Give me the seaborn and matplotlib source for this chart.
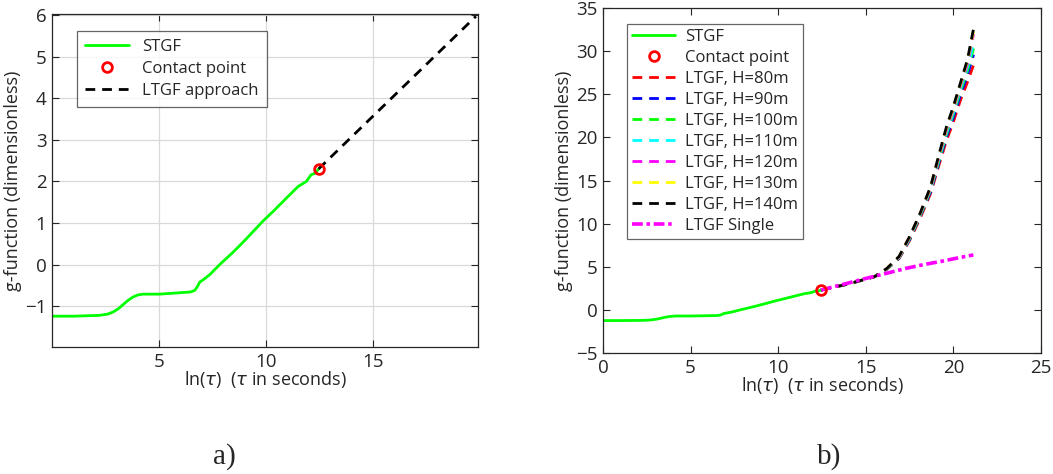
import numpy as np
import pandas as pd
import matplotlib
matplotlib.use("Agg")
import matplotlib.pyplot as plt
import seaborn as sns

# ---- data -------------------------------------------------------------
stgf_x = [0.0, 1.0, 2.2, 2.6, 2.85, 3.1, 3.3, 3.55, 3.78, 4.0, 4.25, 4.6, 5.0,
          5.6, 6.1, 6.45, 6.67, 6.8, 6.9, 7.1, 7.37, 7.83, 8.46, 8.85, 9.22,
          9.86, 10.33, 10.95, 11.5, 11.88, 12.1, 12.3, 12.45]
stgf_y = [-1.24, -1.24, -1.22, -1.19, -1.14, -1.06, -0.97, -0.86, -0.78, -0.73,
          -0.71, -0.71, -0.71, -0.69, -0.67, -0.66, -0.62, -0.52, -0.42, -0.35,
          -0.24, 0.0, 0.30, 0.50, 0.70, 1.05, 1.28, 1.60, 1.88, 2.00, 2.16,
          2.20, 2.30]

contact_x = [12.45]
contact_y = [2.30]

ltgf_x = [12.45, 19.8]
ltgf_y = [2.30, 5.97]

single_x = [12.45, 13.5, 15.05, 16.2, 17.33, 18.3, 19.24, 20.2, 21.14]
single_y = [2.30, 2.85, 3.67, 4.25, 4.83, 5.25, 5.60, 6.00, 6.37]

h_x = [12.45, 14.0, 15.5, 16.2, 16.9, 17.5, 18.1, 18.7, 19.15, 19.6, 20.0,
       20.4, 20.8, 21.15]
h80 = [2.30, 3.00, 3.85, 4.70, 5.95, 8.05, 10.6, 13.5, 16.6, 19.6, 21.8, 24.3, 26.4, 28.4]
h90 = [2.30, 3.00, 3.85, 4.72, 6.00, 8.15, 10.8, 13.7, 16.9, 20.0, 22.3, 24.9, 27.2, 29.6]
h100 = [2.30, 3.00, 3.85, 4.74, 6.05, 8.25, 10.9, 13.9, 17.1, 20.3, 22.7, 25.3, 27.7, 30.3]
h110 = [2.30, 3.00, 3.85, 4.75, 6.08, 8.30, 11.0, 14.0, 17.3, 20.5, 22.9, 25.6, 28.1, 30.8]
h120 = [2.30, 3.00, 3.85, 4.77, 6.12, 8.40, 11.1, 14.1, 17.5, 20.8, 23.2, 25.9, 28.5, 32.0]
h130 = [2.30, 3.00, 3.85, 4.78, 6.16, 8.45, 11.15, 14.2, 17.7, 21.0, 23.4, 26.1, 28.8, 32.3]
h140 = [2.30, 3.00, 3.85, 4.80, 6.20, 8.50, 11.2, 14.3, 17.8, 21.2, 23.6, 26.3, 29.0, 32.6]

h_labels = ["LTGF, H=80m", "LTGF, H=90m", "LTGF, H=100m", "LTGF, H=110m",
            "LTGF, H=120m", "LTGF, H=130m", "LTGF, H=140m"]
h_series = [h80, h90, h100, h110, h120, h130, h140]
h_colors = ["#ff0000", "#0000ff", "#00ff00", "#00ffff", "#ff00ff", "#ffff00", "#000000"]

# ---- style ------------------------------------------------------------
sns.set_theme(style="ticks")
plt.rcParams["font.family"] = ["Open Sans", "DejaVu Sans"]
plt.rcParams["mathtext.fontset"] = "dejavusans"

fig = plt.figure(figsize=(10.53, 4.74), dpi=100)
ax1 = fig.add_axes([0.0494, 0.268, 0.4046, 0.702])
ax2 = fig.add_axes([0.5726, 0.2553, 0.416, 0.7277])

green = "#00ff00"
lw = 2.0
dash = (3.5, 2.5)
xlabel = r"ln($\tau$)  ($\tau$ in seconds)"

def box_axes(ax):
    for s in ax.spines.values():
        s.set_color("#262626")
        s.set_linewidth(0.9)
    ax.tick_params(direction="in", top=True, right=True, length=5,
                   width=0.8, labelsize=13.5, colors="#262626", pad=4)

# ---- panel a ----------------------------------------------------------
sns.lineplot(x=stgf_x, y=stgf_y, ax=ax1, color=green, lw=lw, sort=False,
             label="STGF")
ax1.plot(contact_x, contact_y, "o", ms=7, mfc="none", mec="#ff0000",
         mew=2, label="Contact point", zorder=5)
sns.lineplot(x=ltgf_x, y=ltgf_y, ax=ax1, color="black", lw=lw, sort=False,
             label="LTGF approach")
ax1.lines[-1].set_dashes(dash)
ax1.set_xlim(0, 19.9)
ax1.set_ylim(-1.98, 6.02)
ax1.set_xticks([5, 10, 15])
ax1.set_yticks(range(-1, 7))
ax1.grid(True, color="#d9d9d9", lw=0.9)
box_axes(ax1)
ax1.set_xlabel(xlabel, fontsize=13, labelpad=-1)
ax1.set_ylabel("g-function (dimensionless)", fontsize=13, labelpad=2)
leg1 = ax1.legend(loc="upper left", bbox_to_anchor=(0.059, 0.95),
                  borderaxespad=0, fontsize=12, frameon=True, fancybox=False,
                  edgecolor="#404040", handlelength=2.6, labelspacing=0.35,
                  borderpad=0.5)
leg1.get_frame().set_linewidth(0.9)

# ---- panel b ----------------------------------------------------------
sns.lineplot(x=stgf_x, y=stgf_y, ax=ax2, color=green, lw=lw, sort=False,
             label="STGF")
ax2.plot(contact_x, contact_y, "o", ms=7, mfc="none", mec="#ff0000",
         mew=2, label="Contact point", zorder=6)
for ys, lab, col in zip(h_series, h_labels, h_colors):
    sns.lineplot(x=h_x, y=ys, ax=ax2, color=col, lw=lw, sort=False, label=lab)
    ax2.lines[-1].set_dashes(dash)
sns.lineplot(x=single_x, y=single_y, ax=ax2, color="#ff00ff", lw=2.6,
             sort=False, label="LTGF Single")
ax2.lines[-1].set_dashes((3.0, 1.0, 1.0, 1.0))
ax2.set_xlim(0, 25)
ax2.set_ylim(-5, 35)
ax2.set_xticks(range(0, 26, 5))
ax2.set_yticks(range(-5, 36, 5))
box_axes(ax2)
ax2.set_xlabel(xlabel, fontsize=13, labelpad=-1)
ax2.set_ylabel("g-function (dimensionless)", fontsize=13, labelpad=2)
leg2 = ax2.legend(loc="upper left", bbox_to_anchor=(0.055, 0.954),
                  borderaxespad=0, fontsize=12, frameon=True, fancybox=False,
                  edgecolor="#404040", handlelength=2.6, labelspacing=0.3,
                  borderpad=0.3, handletextpad=0.6)
leg2.get_frame().set_linewidth(0.9)

# panel captions
fig.text(0.213, 0.008, "a)", fontsize=21, family="Liberation Serif",
         ha="center", va="bottom")
fig.text(0.787, 0.008, "b)", fontsize=21, family="Liberation Serif",
         ha="center", va="bottom")

fig.savefig("out.png", dpi=100)
